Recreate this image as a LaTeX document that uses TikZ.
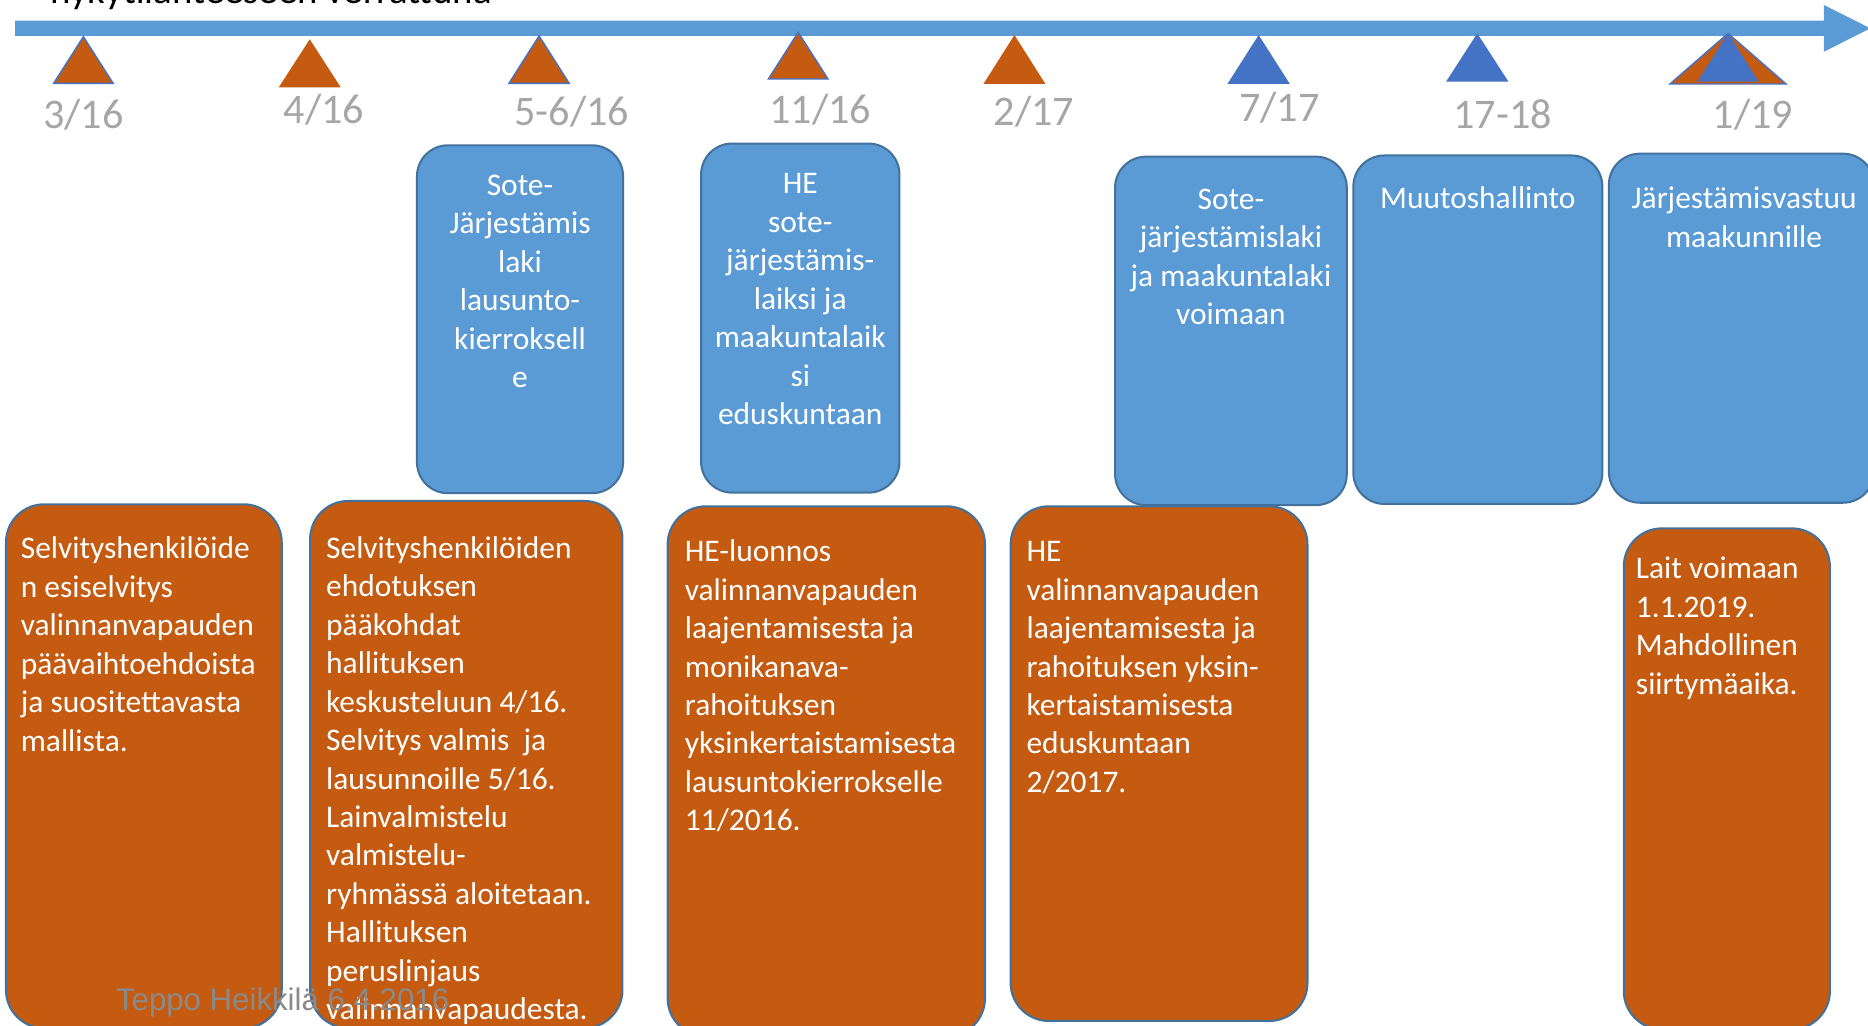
\documentclass[tikz,border=0pt]{standalone}
\usepackage{fontspec}
\setmainfont{Carlito}
\newfontfamily\footfont{Liberation Sans}

\definecolor{barblue}{HTML}{5B9BD5}
\definecolor{edgeblue}{HTML}{41719C}
\definecolor{markblue}{HTML}{4472C4}
\definecolor{rust}{HTML}{C55A11}
\definecolor{dategray}{HTML}{A6A6A6}
\definecolor{footgray}{HTML}{8A8A8A}

% first line strut for box texts
\newcommand{\ekarivi}{\rule{0pt}{11.3pt}}

\tikzset{
	phase/.style={draw=edgeblue, line width=0.85pt, fill=barblue, rounded corners=13pt, inner sep=0pt},
	task/.style={draw=edgeblue, line width=0.85pt, fill=rust, rounded corners=16pt, inner sep=0pt},
	boxtext/.style={text=white, inner sep=0pt, font=\fontsize{13.2}{16.15}\selectfont},
	phasetext/.style={boxtext, align=center, anchor=north},
	tasktext/.style={boxtext, align=left, anchor=north west},
	datelabel/.style={text=dategray, anchor=base, inner sep=0pt, font=\fontsize{17.7}{20}\selectfont},
	markRing/.style={fill=rust, draw=markblue, line width=0.6pt},
	markFill/.style={fill=rust},
	markBlue/.style={fill=markblue},
}

\begin{document}
\begin{tikzpicture}[x=0.5pt, y=-0.5pt]
		\useasboundingbox (0,0) rectangle (1568,861);
		
		% Heading (cut off at the top)
		\node[anchor=base west, inner sep=0pt, font=\fontsize{16.3}{19}\selectfont] (otsikko) at (42,3) {nykytilanteeseen verrattuna};
		
		% Time axis
		\fill[barblue] (12.6,17.4) -- (1531,17.4) -- (1531,4.2) -- (1570,23.8) -- (1531,43.4) -- (1531,30.2) -- (12.6,30.2) -- cycle;
		
		% Markers
		\foreach \ax/\ay/\hw/\by/\st in {70/30.8/25/70/markRing, 260/33/26/73.3/markFill, 452.5/30.2/25.3/70/markRing, 670/27.1/25/66.3/markRing, 851.5/29.4/26/70.5/markFill, 1056.5/29.4/26.2/70.5/markBlue, 1240/28/26.2/68.6/markBlue, 1450.5/28/48.75/70.5/markRing, 1450.5/28/25.75/68.6/markBlue} {
			\path[\st] (\ax,\ay) -- (\ax+\hw,\by) -- (\ax-\hw,\by) -- cycle;
		}
		
		% Dates
		\foreach \x/\y/\pvm [count=\i] in {70/107.7/{3/16}, 272/103.5/{4/16}, 480/105/{5-6/16}, 688.6/103.5/{11/16}, 867.8/105/{2/17}, 1074/102/{7/17}, 1261.4/107.7/{17-18}, 1471.4/107.7/{1/19}} {
			\node[datelabel] (pvm\i) at (\x,\y) {\pvm};
		}
		
		% Blue phases
		\node[phase, minimum width=86.5pt, minimum height=146pt] (soteLaki) at (436.5,268) {};
		\node[phase, minimum width=83.25pt, minimum height=146.5pt] (heSote) at (671.75,267) {};
		\node[phase, minimum width=97.25pt, minimum height=146.25pt] (lakiVoimaan) at (1033.25,277.75) {};
		\node[phase, minimum width=104.5pt, minimum height=146.25pt] (muutos) at (1240.5,276.75) {};
		\node[phase, minimum width=111.25pt, minimum height=146.5pt] (vastuu) at (1461.75,275.5) {};
		
		\node[phasetext] (soteLakiTxt) at (436.5,141.1) {\ekarivi Sote-\\Järjestämis\\laki\\lausunto-\\kierroksell\\e};
		\node[phasetext] (heSoteTxt) at (671.75,139.7) {\ekarivi HE\\sote-\\järjestämis-\\laiksi ja\\maakuntalaik\\si\\eduskuntaan};
		\node[phasetext] (lakiVoimaanTxt) at (1033.25,152.8) {\ekarivi Sote-\\järjestämislaki\\ja maakuntalaki\\voimaan};
		\node[phasetext] (muutosTxt) at (1240.5,152.3) {\ekarivi Muutoshallinto};
		\node[phasetext] (vastuuTxt) at (1464,152.3) {\ekarivi Järjestämisvastuu\\maakunnille};
		
		% Orange tasks
		\node[task, minimum width=115.75pt, minimum height=219.85pt] (esiselvitys) at (120.75,643.15) {};
		\node[task, minimum width=131.1pt, minimum height=221.25pt] (ehdotus) at (391.4,641.75) {};
		\node[task, minimum width=133.2pt, minimum height=222.5pt] (luonnos) at (693.6,647.5) {};
		\node[task, minimum width=124.6pt, minimum height=216pt] (heEduskunta) at (972.9,641) {};
		\node[task, minimum width=86.5pt, minimum height=210.25pt] (laitVoimaan) at (1449.5,653.75) {};
		
		\node[tasktext] (esiselvitysTxt) at (17.1,446) {\ekarivi Selvityshenkilöide\\n esiselvitys\\valinnanvapauden\\päävaihtoehdoista\\ja suositettavasta\\mallista.};
		\node[tasktext] (ehdotusTxt) at (273.4,445.5) {\ekarivi Selvityshenkilöiden\\ehdotuksen\\pääkohdat\\hallituksen\\keskusteluun 4/16.\\Selvitys valmis\ \ ja\\lausunnoille 5/16.\\Lainvalmistelu\\valmistelu-\\ryhmässä aloitetaan.\\Hallituksen\\peruslinjaus\\valinnanvapaudesta.};
		\node[tasktext] (luonnosTxt) at (574.5,448.4) {\ekarivi HE-luonnos\\valinnanvapauden\\laajentamisesta ja\\monikanava-\\rahoituksen\\yksinkertaistamisesta\\lausuntokierrokselle\\11/2016.};
		\node[tasktext] (heEduskuntaTxt) at (861.3,448.4) {\ekarivi HE\\valinnanvapauden\\laajentamisesta ja\\rahoituksen yksin-\\kertaistamisesta\\eduskuntaan\\2/2017.};
		\node[tasktext] (laitVoimaanTxt) at (1372.8,462.8) {\ekarivi Lait voimaan\\1.1.2019.\\Mahdollinen\\siirtymäaika.};
		
		% Footer
		\node[anchor=base west, inner sep=0pt, text=footgray, font=\footfont\fontsize{13.1}{15}\selectfont] (tekija) at (97,847.8) {Teppo Heikkilä 6.4.2016};
	\end{tikzpicture}
\end{document}
